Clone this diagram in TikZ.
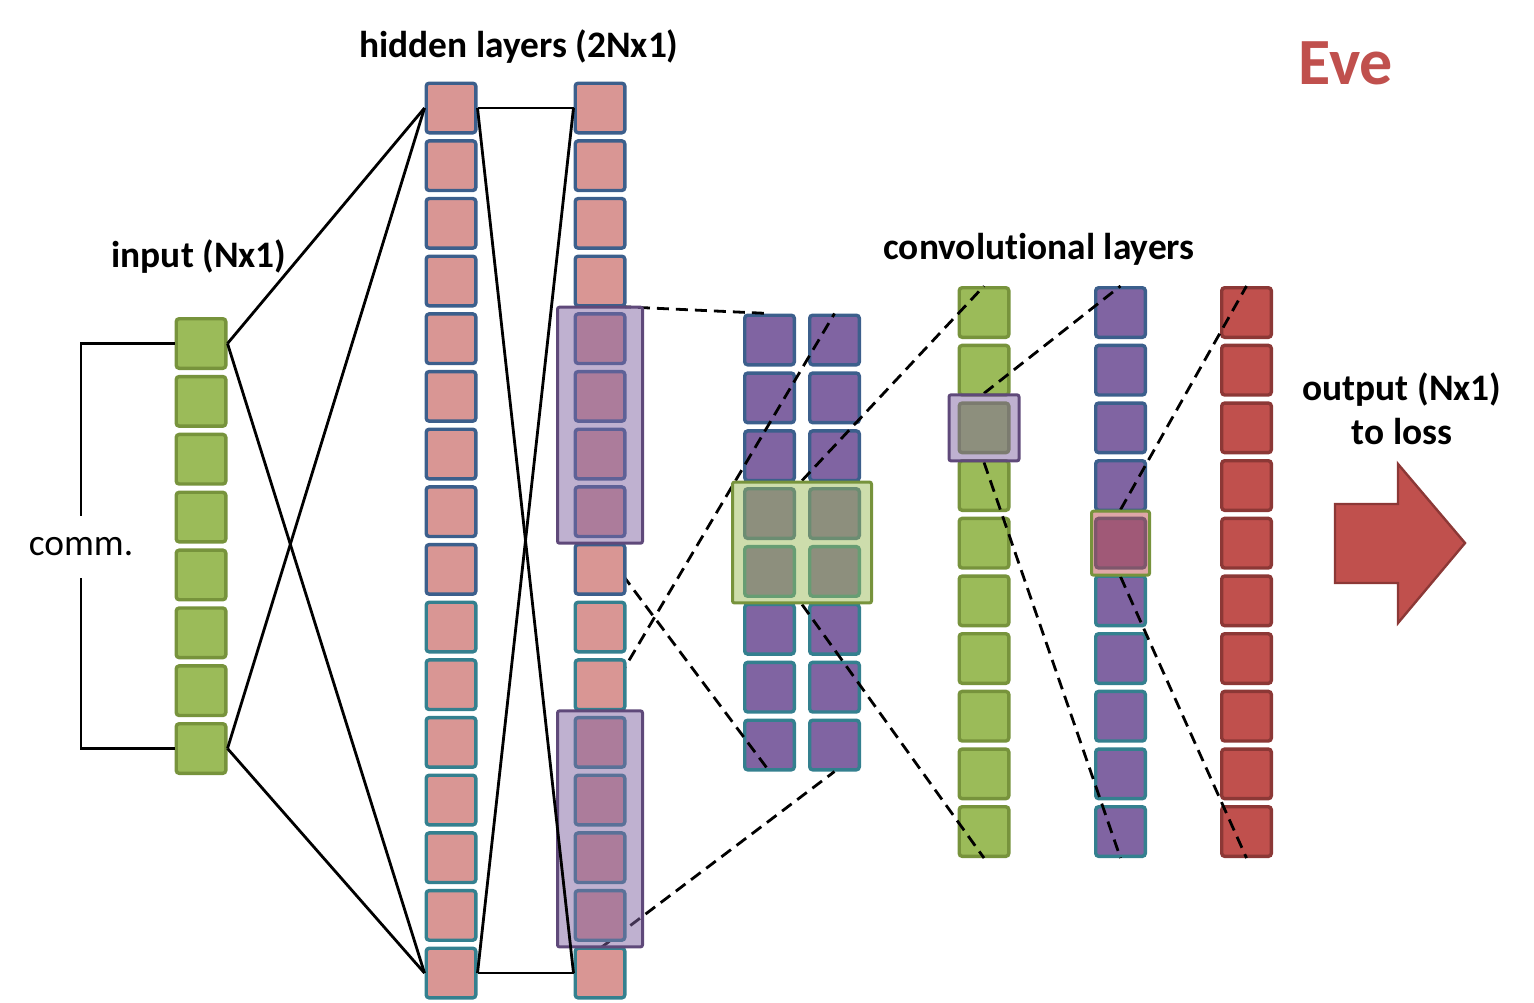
\documentclass[tikz,border=0pt]{standalone}
\usepackage{fontspec}
\setmainfont{Carlito}[Ligatures=CommonOff]
\usepackage{tikz}
\usetikzlibrary{fit}

\definecolor{cellgreen}{HTML}{9BBB59}
\definecolor{greenline}{HTML}{77933C}
\definecolor{cellpink}{HTML}{D99694}
\definecolor{blueline}{HTML}{3C5F8C}
\definecolor{tealline}{HTML}{34808F}
\definecolor{cellpurple}{HTML}{8064A2}
\definecolor{cellred}{HTML}{C0504D}
\definecolor{redline}{HTML}{8C3836}
\definecolor{boxline}{HTML}{5F497A}

\pgfdeclarelayer{back}
\pgfdeclarelayer{lines}
\pgfsetlayers{back,lines,main}

\begin{document}
\begin{tikzpicture}[x=0.5pt,y=-0.5pt]
  \tikzset{cell/.style = {draw, rounded corners=1.5pt, line width=1.7pt, minimum size=24.8pt, inner sep=0pt}}
  \tikzset{greencell/.style = {cell, fill=cellgreen, draw=greenline}}
  \tikzset{pinkcell/.style = {cell, fill=cellpink}}
  \tikzset{purplecell/.style = {cell, fill=cellpurple}}
  \tikzset{redcell/.style = {cell, fill=cellred, draw=redline}}
  \tikzset{hbox/.style = {draw=boxline, fill=cellpurple, fill opacity=0.5, line width=1.5pt, rounded corners=1pt}}
  \tikzset{gbox/.style = {draw=greenline, fill=cellgreen, fill opacity=0.5, line width=1.5pt, rounded corners=1pt}}
  \tikzset{rbox/.style = {draw=greenline, fill=cellred, fill opacity=0.5, line width=1.5pt, rounded corners=1pt}}
  \tikzset{wire/.style = {line width=1.4pt}}
  \tikzset{link/.style = {line width=1.4pt, dash pattern=on 6pt off 3.5pt}}
  \tikzset{heading/.style = {font=\bfseries\fontsize{18.7}{22}\selectfont, inner sep=0pt}}

\useasboundingbox (0,0) rectangle (1534,1002);

% labels
\node[heading] (thidden) at (519,47) {hidden layers (2Nx1)};
\node[heading] (tinput) at (199,257) {input (Nx1)};
\node[heading] (tconv) at (1039,249) {convolutional layers};
\node[heading, align=center] (tout) at (1402,409) {output (Nx1)\\to loss};
\node[font=\bfseries\fontsize{33}{36}\selectfont, text=cellred, inner sep=0pt] (teve) at (1346,63) {Eve};
\node[font=\fontsize{18.7}{22}\selectfont, minimum height=31pt, inner sep=0pt] (comm) at (81,547) {comm.};

% input
\foreach \i in {1,...,8}
  \node[greencell] (in-\i) at (201,{343.5+(\i-1)*57.86}) {};

% hidden layers
\foreach \i in {1,...,9} {
  \node[pinkcell, draw=blueline] (ha-\i) at (451,{108+(\i-1)*57.67}) {};
  \node[pinkcell, draw=blueline] (hb-\i) at (600,{108+(\i-1)*57.67}) {};
}
\foreach \i in {10,...,16} {
  \node[pinkcell, draw=tealline] (ha-\i) at (451,{108+(\i-1)*57.67}) {};
  \node[pinkcell, draw=tealline] (hb-\i) at (600,{108+(\i-1)*57.67}) {};
}

% convolutional layers
\begin{pgfonlayer}{back}
\foreach \i in {1,...,8} {
  \ifnum\i<5 \def\edge{blueline}\else\def\edge{tealline}\fi
  \node[purplecell, draw=\edge] (ca-\i) at (769.5,{340+(\i-1)*57.86}) {};
  \node[purplecell, draw=\edge] (cb-\i) at (834.5,{340+(\i-1)*57.86}) {};
}
\foreach \i in {1,...,10} {
  \ifnum\i<6 \def\edge{blueline}\else\def\edge{tealline}\fi
  \node[greencell] (cg-\i) at (984,{312.5+(\i-1)*57.67}) {};
  \node[purplecell, draw=\edge] (cp-\i) at (1120.5,{312.5+(\i-1)*57.67}) {};
  \node[redcell] (cr-\i) at (1246.5,{312.5+(\i-1)*57.67}) {};
}
\end{pgfonlayer}

% highlighted windows
\node[hbox, inner xsep=8pt, inner ysep=2.5pt, fit=(hb-5)(hb-8)] (sel-a) {};
\node[hbox, inner xsep=8pt, inner ysep=2.5pt, fit=(hb-12)(hb-15)] (sel-b) {};
\node[gbox, inner xsep=5.25pt, inner ysep=2.5pt, fit=(ca-4)(cb-5)] (sel-c) {};
\node[hbox, inner xsep=4.25pt, inner ysep=3.25pt, fit=(cg-3)] (sel-d) {};
\node[rbox, inner xsep=1.25pt, inner ysep=2.75pt, fit=(cp-5)] (sel-e) {};

% fully connected
\draw[wire] (in-1.east) -- (ha-1.west);
\draw[wire] (in-1.east) -- (ha-16.west);
\draw[wire] (in-8.east) -- (ha-1.west);
\draw[wire] (in-8.east) -- (ha-16.west);
\draw[wire] (ha-1.east) -- (hb-1.west);
\draw[wire] (ha-1.east) -- (hb-16.west);
\draw[wire] (ha-16.east) -- (hb-16.west);
\draw[wire] (ha-16.east) -- (hb-1.west);

% comm. bracket
\draw[wire] (in-1.west) -| (comm.north);
\draw[wire] (in-8.west) -| (comm.south);

% receptive fields
\begin{pgfonlayer}{lines}
\draw[link] (sel-a.north) -- (ca-1.north);
\draw[link] (sel-a.south) -- (ca-8.south);
\draw[link] (sel-b.north) -- (cb-1.north);
\draw[link] (sel-b.south) -- (cb-8.south);
\draw[link] (sel-c.north) -- (cg-1.north);
\draw[link] (sel-c.south) -- (cg-10.south);
\draw[link] (sel-d.north) -- (cp-1.north);
\draw[link] (sel-d.south) -- (cp-10.south);
\draw[link] (sel-e.north) -- (cr-1.north);
\draw[link] (sel-e.south) -- (cr-10.south);
\end{pgfonlayer}

% output arrow
\draw[fill=cellred, draw=redline, line width=1.2pt] (1335,504) -- (1398,504) -- (1398,464) -- (1465,543) -- (1398,623) -- (1398,583) -- (1335,583) -- cycle;

\end{tikzpicture}
\end{document}
